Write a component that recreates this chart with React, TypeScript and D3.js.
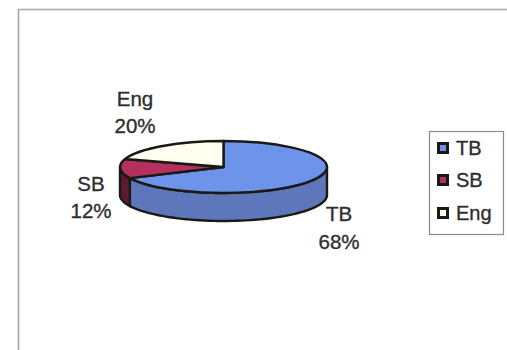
import React from "react";
import * as d3 from "d3";

// Share of each category, in percent
const categories = ["TB", "SB", "Eng"];
const shares = [68, 12, 20];
const topColors = ["#6d93ea", "#b3305f", "#fffff0"];
const sideColors = ["#5d77ba", "#5c1a2e", "#d8d8c0"];

const width = 507;
const height = 350;
const cx = 223.5;
const cy = 167;
const rx = 103.5;
const ry = 26;
const depth = 28;
const ink = "#1a1a14";
const textColor = "#2e2e2e";
const fontFamily = "'Liberation Sans', Arial, sans-serif";

// Slices run clockwise from twelve o'clock, in the order given
const slices = d3
  .pie<number>()
  .sort(null)
  .value((d) => d)(shares);

// Maps a pie angle onto the tilted ellipse of the disc
const rimX = (a: number) => cx + rx * Math.sin(a);
const rimY = (a: number) => cy - ry * Math.cos(a);

const topArc = d3
  .arc<d3.PieArcDatum<number>>()
  .innerRadius(0)
  .outerRadius(rx);

// Wall below the rim, limited to the part of the slice facing the viewer
function wallPath(start: number, end: number): string | null {
  const a0 = Math.max(start, Math.PI / 2);
  const a1 = Math.min(end, (3 * Math.PI) / 2);
  if (a1 <= a0) return null;
  const angles = d3.range(0, 61).map((i) => a0 + ((a1 - a0) * i) / 60);
  const upper = angles.map((a) => [rimX(a), rimY(a)] as [number, number]);
  const lower = angles
    .slice()
    .reverse()
    .map((a) => [rimX(a), rimY(a) + depth] as [number, number]);
  return d3.line()([...upper, ...lower]) + "Z";
}

const dataLabels = [
  { x: 339, y: 221, pct: 249 },
  { x: 91, y: 191, pct: 218 },
  { x: 135, y: 106, pct: 133 },
];
const legendRows = [148, 180, 213];

export default function App() {
  return (
    <svg
      width={width}
      height={height}
      style={{ position: "absolute", left: 0, top: 0, display: "block", background: "#fff" }}
      fontFamily={fontFamily}
    >
      <path d={`M18.5 ${height}V9.5H${width}`} fill="none" stroke="#a8a8a8" strokeWidth={1.6} />

      {slices.map((s, i) => {
        const d = wallPath(s.startAngle, s.endAngle);
        return d ? (
          <path key={i} d={d} fill={sideColors[i]} stroke={ink} strokeWidth={2.4} strokeLinejoin="round" />
        ) : null;
      })}

      {slices.map((s, i) => (
        <path
          key={i}
          d={topArc(s) as string}
          transform={`translate(${cx},${cy}) scale(1,${ry / rx})`}
          fill={topColors[i]}
          stroke={ink}
          strokeWidth={2.4}
          strokeLinejoin="round"
          vectorEffect="non-scaling-stroke"
        />
      ))}

      {slices.map((s, i) => (
        <g key={i} fill={textColor} stroke={textColor} strokeWidth={0.35} textAnchor="middle" fontSize={20.5}>
          <text x={dataLabels[i].x} y={dataLabels[i].y}>
            {categories[i]}
          </text>
          <text x={dataLabels[i].x} y={dataLabels[i].pct}>
            {`${d3.format(".0f")(s.value)}%`}
          </text>
        </g>
      ))}

      <rect x={429.5} y={131.5} width={74} height={103} fill="#fff" stroke="#8c8c8c" strokeWidth={1.2} />
      {categories.map((c, i) => (
        <g key={c}>
          <rect
            x={438.5}
            y={legendRows[i] - 4.5}
            width={9}
            height={9}
            fill={topColors[i]}
            stroke={ink}
            strokeWidth={3}
          />
          <text
            x={456}
            y={legendRows[i] + 7}
            fill={textColor}
            stroke={textColor}
            strokeWidth={0.35}
            fontSize={20}
          >
            {c}
          </text>
        </g>
      ))}
    </svg>
  );
}
